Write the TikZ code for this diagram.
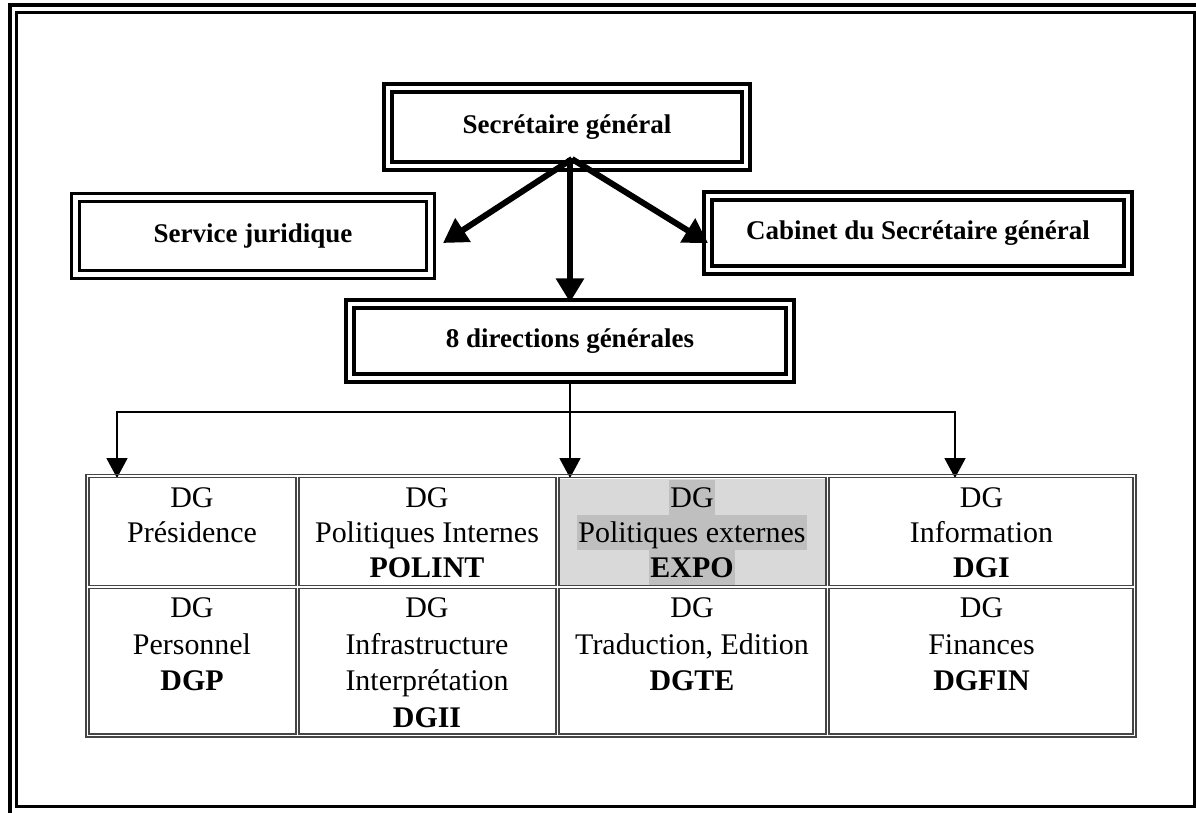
\documentclass[tikz,border=0pt]{standalone}
\usepackage{xcolor}
\usepackage{fontspec}
\setmainfont{Liberation Serif}
\usepackage{tikz}
\usetikzlibrary{arrows.meta, positioning, calc}
\definecolor{cellgray}{rgb}{0.27,0.27,0.27}
\definecolor{shadegray}{rgb}{0.85,0.85,0.85}
\definecolor{markgray}{rgb}{0.75,0.75,0.75}
\newdimen\px \px=0.025cm

\tikzset{
  bigbox/.style={draw, double, line width=3.4\px, double distance=4.3\px, inner sep=0pt, minimum height=74\px, font=\fontsize{19.2}{22}\selectfont\bfseries},
  thickarrow/.style={line width=6\px, -{Triangle[length=17pt, width=19.2pt]}},
  thinarrow/.style={line width=2\px, -{Triangle[length=14.2pt, width=14.9pt]}},
  cellline/.style={draw=cellgray, line width=1.3\px},
  celltext/.style={anchor=north, align=center, inner sep=0pt, font=\fontsize{21.3}{24.9}\selectfont},
  marktext/.style={anchor=base, fill=markgray, inner xsep=1.1pt, inner ysep=0pt, text height=27\px, text depth=8\px, font=\fontsize{21.3}{24.9}\selectfont}
}

\begin{document}
\begin{tikzpicture}[x=0.025cm, y=-0.025cm]
\clip (0,0) rectangle (1196,812);

% frame
\draw[line width=4\px] (9.5,4.5) rectangle (1230,840);
\draw[line width=3\px] (16,12) rectangle (1194.5,806.5);

% boxes
\node[bigbox, minimum width=358\px, minimum height=78\px] (sec) at (567,127) {Secrétaire général};
\node[bigbox, minimum width=355\px, minimum height=77\px] (serv) at (253,236) {Service juridique};
\node[bigbox, minimum width=420\px] (cab) at (918,233) {Cabinet du Secrétaire général};
\node[bigbox, minimum width=440\px] (dg8) at (570,341) {8 directions générales};

\coordinate (hub) at (572,159);
\coordinate (servtip) at (443,243);
\coordinate (cabtip) at (708,243);
\draw[thickarrow] (hub) -- (servtip);
\draw[thickarrow] (hub) -- (cabtip);
\draw[thickarrow] (570,158) -- (dg8.north);

% to the table
\coordinate (split) at (570,412);
\coordinate (ta) at (117,478);
\coordinate (tb) at (570,478);
\coordinate (tc) at (955,478);
\draw[thinarrow] (dg8.south) -- (tb);
\draw[thinarrow] (split) -| (ta);
\draw[thinarrow] (split) -| (tc);

% table
\fill[shadegray] (559,479) rectangle (826,585.5);
\draw[cellline] (86,474.5) rectangle (1136,737);
\foreach \xa/\xb in {89/296, 299/556, 559/826, 829/1133}
  \foreach \ya/\yb in {477.5/585.5, 588.5/734}
    \draw[cellline] (\xa,\ya) rectangle (\xb,\yb);

\node[celltext] (pres) at (192,487.3) {DG\\Présidence};
\node[celltext] (polint) at (427,487.3) {DG\\Politiques Internes\\\textbf{POLINT}};
\node[marktext] (expoa) at (692,507) {DG};
\node[marktext] (expob) at (692,542) {Politiques externes};
\node[marktext] (expoc) at (692,577) {\textbf{EXPO}};
\node[celltext] (dgi) at (981.5,487.3) {DG\\Information\\\textbf{DGI}};

\node[celltext, font=\fontsize{21.3}{26.1}\selectfont] (dgp) at (192,597.3) {DG\\Personnel\\\textbf{DGP}};
\node[celltext, font=\fontsize{21.3}{26.1}\selectfont] (dgii) at (427,597.3) {DG\\Infrastructure\\Interprétation\\\textbf{DGII}};
\node[celltext, font=\fontsize{21.3}{26.1}\selectfont] (dgte) at (692,597.3) {DG\\Traduction, Edition\\\textbf{DGTE}};
\node[celltext, font=\fontsize{21.3}{26.1}\selectfont] (dgfin) at (981.5,597.3) {DG\\Finances\\\textbf{DGFIN}};

\end{tikzpicture}
\end{document}
